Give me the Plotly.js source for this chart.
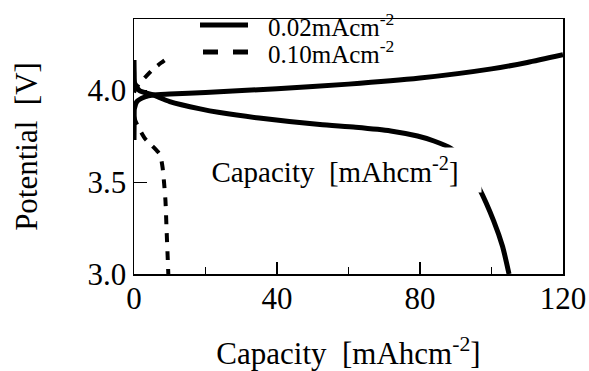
<!DOCTYPE html>
<html>
<head>
<meta charset="utf-8">
<script src="https://cdn.plot.ly/plotly-3.0.1.min.js"></script>
<style>html,body{margin:0;padding:0;background:#fff;}#chart{width:589px;height:371px;}</style>
</head>
<body>
<div id="chart"></div>
<script>
// 0.02 mA cm^-2 : charge
const chgLowX = [0, 0.05, 0.1, 0.8, 3, 5.3, 10, 20, 40, 60, 80, 100, 110, 120];
const chgLowY = [3.73, 3.85, 3.90, 3.94, 3.965, 3.976, 3.981, 3.99, 4.01, 4.035, 4.068, 4.118, 4.153, 4.195];
// 0.02 mA cm^-2 : discharge
const disLowX = [0, 0.05, 0.2, 1.5, 5.3, 10, 18.5, 24, 35, 52, 62, 71.8, 79.3, 83.9, 88.6, 92, 96.5, 100.6, 103.1, 104.9];
const disLowY = [4.167, 4.10, 4.04, 4.00, 3.976, 3.94, 3.90, 3.88, 3.85, 3.815, 3.80, 3.78, 3.752, 3.725, 3.685, 3.62, 3.47, 3.29, 3.15, 3.0];
// 0.10 mA cm^-2 : charge
const chgHighX = [0, 0.5, 1.5, 3, 5, 7.5, 9.6];
const chgHighY = [3.99, 4.01, 4.04, 4.07, 4.11, 4.15, 4.18];
// 0.10 mA cm^-2 : discharge
const disHighX = [0, 0.5, 1.5, 3, 5, 6.5, 7.3, 8.0, 8.4, 8.8, 9.1, 9.4, 9.6];
const disHighY = [3.86, 3.83, 3.79, 3.74, 3.70, 3.67, 3.65, 3.58, 3.50, 3.40, 3.25, 3.10, 3.0];

const seriesNames = ['0.02mAcm<sup>-2</sup>', '0.10mAcm<sup>-2</sup>'];
const xTicks = [0, 40, 80, 120];
const yTicks = [3.0, 3.5, 4.0];
const yTickText = ['3.0', '3.5', '4.0'];
const xTitle = 'Capacity  [mAhcm<sup>-2</sup>]';
const yTitle = 'Potential  [V]';
const noteText = 'Capacity  [mAhcm<sup>-2</sup>]';

const FONT = '"Liberation Serif", "Times New Roman", Times, serif';

const traces = [
  {x: chgLowX, y: chgLowY, mode: 'lines', name: seriesNames[0], showlegend: false,
   line: {color: '#000', width: 5, shape: 'spline', smoothing: 0.6}},
  {x: disLowX, y: disLowY, mode: 'lines', name: seriesNames[0], showlegend: false,
   line: {color: '#000', width: 5, shape: 'spline', smoothing: 0.6}},
  {x: chgHighX, y: chgHighY, mode: 'lines', name: seriesNames[1], showlegend: false,
   line: {color: '#000', width: 4, dash: '9px,9px', shape: 'spline', smoothing: 0.6}},
  {x: disHighX, y: disHighY, mode: 'lines', name: seriesNames[1], showlegend: false,
   line: {color: '#000', width: 4, dash: '9px,9px', shape: 'spline', smoothing: 0.6}}
];

const axisCommon = {
  showline: true, linecolor: '#000', linewidth: 1.5, mirror: true,
  showgrid: false, zeroline: false, ticks: 'inside', tickcolor: '#000',
  tickwidth: 1.5, tickfont: {family: FONT, size: 31, color: '#000'}
};

// legend drawn as line samples + labels in paper coordinates
const plotL = 134, plotW = 589 - 134 - 26, plotT = 19, plotH = 371 - 19 - 97;
const px = v => (v - plotL) / plotW;
const py = v => (plotT + plotH - v) / plotH;

const layout = {
  width: 589, height: 371,
  margin: {l: 134, r: 26, t: 19, b: 97},
  paper_bgcolor: '#fff', plot_bgcolor: '#fff',
  font: {family: FONT, color: '#000'},
  showlegend: false,
  xaxis: Object.assign({}, axisCommon, {
    range: [0, 120], tickvals: xTicks, ticklen: 12, ticklabelstandoff: -4,
    minor: {dtick: 20, tick0: 0, ticks: 'inside', ticklen: 7, tickcolor: '#000', tickwidth: 1.5, showgrid: false},
    title: {text: xTitle, font: {family: FONT, size: 31, color: '#000'}, standoff: 31}
  }),
  yaxis: Object.assign({}, axisCommon, {
    range: [3.0, 4.39], tickvals: yTicks, ticktext: yTickText, ticklen: 13,
    title: {text: yTitle, font: {family: FONT, size: 31, color: '#000'}, standoff: 40}
  }),
  shapes: [
    {type: 'line', xref: 'paper', yref: 'paper', x0: px(200), x1: px(248), y0: py(25), y1: py(25),
     line: {color: '#000', width: 5}},
    {type: 'line', xref: 'paper', yref: 'paper', x0: px(203), x1: px(248), y0: py(52), y1: py(52),
     line: {color: '#000', width: 5, dash: '15px,15px'}}
  ],
  annotations: [
    {xref: 'x', yref: 'y', x: 56.3, y: 3.567, text: noteText, showarrow: false,
     font: {family: FONT, size: 29, color: '#000'}, bgcolor: '#fff', width: 290, height: 42},
    {xref: 'paper', yref: 'paper', x: px(266), y: py(25), xanchor: 'left', yanchor: 'middle',
     text: seriesNames[0], showarrow: false, font: {family: FONT, size: 25, color: '#000'}},
    {xref: 'paper', yref: 'paper', x: px(266), y: py(52), xanchor: 'left', yanchor: 'middle',
     text: seriesNames[1], showarrow: false, font: {family: FONT, size: 25, color: '#000'}}
  ]
};

Plotly.newPlot('chart', traces, layout, {displayModeBar: false, staticPlot: true});
</script>
</body>
</html>
